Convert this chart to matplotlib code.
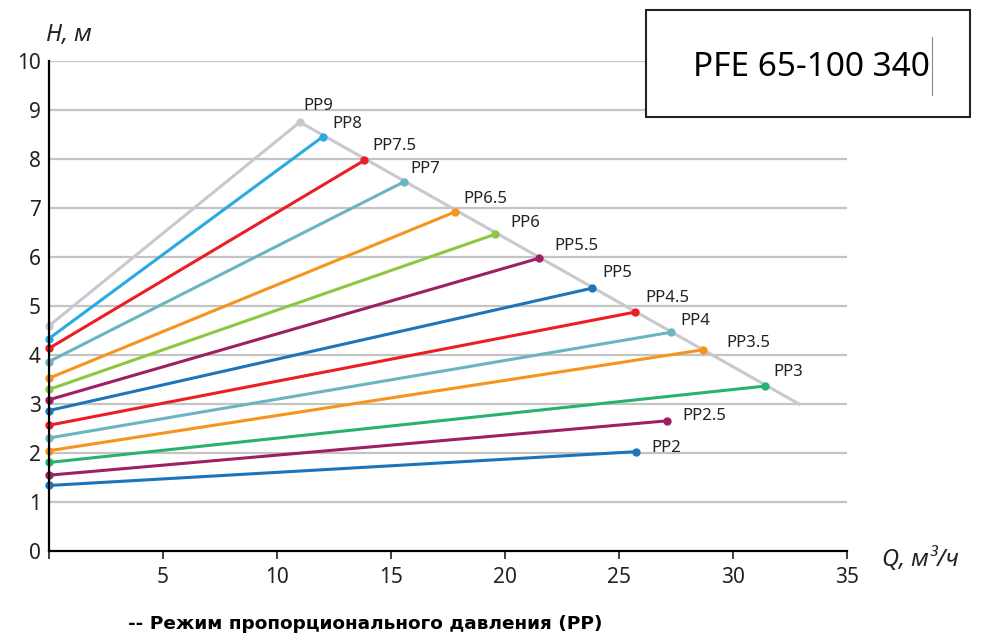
import matplotlib
matplotlib.use('Agg')
import matplotlib.pyplot as plt
from matplotlib.patches import Rectangle

plt.rcParams['font.family'] = ['Noto Sans', 'DejaVu Sans']

# ------------------------------------------
# Данные: кривые режима пропорционального давления
# ------------------------------------------
labels = ['PP2', 'PP2.5', 'PP3', 'PP3.5', 'PP4', 'PP4.5', 'PP5',
          'PP5.5', 'PP6', 'PP6.5', 'PP7', 'PP7.5', 'PP8', 'PP9']
h_start = [1.33, 1.54, 1.80, 2.04, 2.30, 2.56, 2.86,
           3.08, 3.29, 3.52, 3.86, 4.13, 4.33, 4.59]
q_end = [25.73, 27.09, 31.4, 28.67, 27.28, 25.69, 23.82,
         21.48, 19.56, 17.82, 15.56, 13.83, 12.0, 11.0]
h_end = [2.02, 2.65, 3.36, 4.10, 4.46, 4.87, 5.36,
         5.97, 6.46, 6.92, 7.53, 7.97, 8.45, 8.75]

# граница рабочей области (после PP9)
env_q = [11.0, 32.9]
env_h = [8.75, 2.99]

colors = ['#1c75bc', '#9e1f63', '#27b36f', '#f7941d', '#6ab5c1', '#ee1c25', '#1c75bc',
          '#9e1f63', '#8dc63f', '#f7941d', '#6ab5c1', '#ee1c25', '#29abe2', '#c8c8d0']

# смещение подписей (в пикселях)
label_off = [(16, -4), (16, -3), (8, 6), (23, -1), (9, 3), (10, 6), (10, 7),
             (15, 4), (15, 3), (8, 5), (6, 5), (8, 6), (10, 5), (4, 8)]

fig = plt.figure(figsize=(10.06, 6.41), dpi=100)
ax = fig.add_axes([0.0487, 0.141, 0.7935, 0.764])

ax.set_xlim(0, 35)
ax.set_ylim(0, 10)

for y in range(1, 11):
    ax.axhline(y, color='#c4c4c4', linewidth=1.6, zorder=1)

ax.plot(env_q, env_h, color='#c8c8d0', linewidth=2.2, zorder=2, clip_on=False)

for lab, h0, q1, h1, c, off in zip(labels, h_start, q_end, h_end, colors, label_off):
    ax.plot([0, q1], [h0, h1], color=c, linewidth=2.2, marker='o', markersize=5,
            zorder=3, clip_on=False)
    ax.annotate(lab, (q1, h1), xytext=off, textcoords='offset pixels',
                fontsize=12, color='#222222', ha='left', va='bottom')

for s in ['top', 'right']:
    ax.spines[s].set_visible(False)
ax.spines['left'].set_linewidth(1.6)
ax.spines['bottom'].set_linewidth(1.6)
ax.spines['left'].set_zorder(5)

ax.set_xticks([0, 5, 10, 15, 20, 25, 30, 35])
ax.set_xticklabels(['', '5', '10', '15', '20', '25', '30', '35'])
ax.set_yticks(range(0, 11))
ax.tick_params(axis='x', direction='out', length=6, width=1.2, labelsize=15, pad=6, colors='#222222')
ax.tick_params(axis='y', direction='out', length=0, labelsize=15, pad=6, colors='#222222')

# подписи осей
fig.text(0.046, 0.945, 'H, м', fontsize=17, style='italic', color='#222222', ha='left', va='center')
fig.text(0.877, 0.127, 'Q, м³/ч', fontsize=17, style='italic', color='#222222', ha='left', va='center')

# рамка с названием насоса (белая, перекрывает сетку)
fig.patches.append(Rectangle((0.642, 0.818), 0.322, 0.166, transform=fig.transFigure,
                             facecolor='white', edgecolor='#222222', linewidth=1.5, zorder=2))
fig.text(0.9245, 0.895, 'PFE 65-100 340', fontsize=24, color='black', ha='right', va='center',
         zorder=3)
fig.lines.append(plt.Line2D([0.9265, 0.9265], [0.852, 0.942], transform=fig.transFigure,
                            color='#888888', linewidth=0.8, zorder=3))

fig.text(0.127, 0.026, '-- Режим пропорционального давления (PP)', fontsize=13.3,
         fontweight='bold', family=['DejaVu Sans'], color='black', ha='left', va='center')

fig.savefig('out.png', dpi=100)
